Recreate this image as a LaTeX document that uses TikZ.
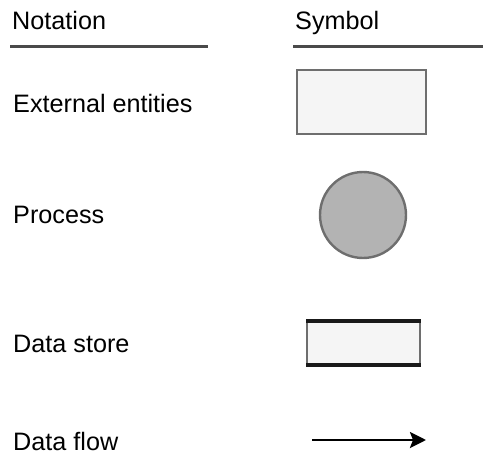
\documentclass[tikz,border=0pt]{standalone}
\usepackage{fontspec}
\setmainfont{Liberation Sans}
\usetikzlibrary{arrows.meta}
\definecolor{boxfill}{HTML}{F5F5F5}
\definecolor{boxline}{HTML}{6E6E6E}
\definecolor{procfill}{HTML}{B3B3B3}
\definecolor{rulecol}{HTML}{4A4A4A}
\begin{document}
\begin{tikzpicture}[x=1pt,y=-1pt,
  lbl/.style={anchor=base west,inner sep=0pt,font=\fontsize{25.2}{30}\selectfont,text=black},
  hrule/.style={draw=rulecol,line width=3pt},
  entity/.style={draw=boxline,fill=boxfill,line width=2.6pt},
  proc/.style={circle,draw=boxline,fill=procfill,line width=2.4pt,minimum size=86pt,inner sep=0pt},
  flow/.style={draw=black,line width=2.6pt,-{Stealth[length=16pt,width=16pt,inset=3pt]}}]
\useasboundingbox (0,0) rectangle (483,455);
\node[lbl] (hnot) at (12,29) {Notation};
\node[lbl] (hsym) at (295,29) {Symbol};
\coordinate (r1a) at (10,46); \coordinate (r1b) at (208,46);
\coordinate (r2a) at (293,46); \coordinate (r2b) at (483,46);
\draw[hrule] (r1a) -- (r1b);
\draw[hrule] (r2a) -- (r2b);
\node[lbl] (lext) at (13,112) {External entities};
\node[lbl] (lproc) at (13,223) {Process};
\node[lbl] (lstore) at (13,352) {Data store};
\node[lbl] (lflow) at (13,450) {Data flow};
% external entity
\draw[entity] (297,70) rectangle (426,134);
% process
\node[proc] (proc) at (363,215) {};
% data store
\fill[boxfill] (307,321) rectangle (420,365);
\draw[boxline,line width=1.6pt] (307,321) -- (307,365) (420,321) -- (420,365);
\draw[black!90,line width=3.6pt] (306,321) -- (421,321);
\draw[black!90,line width=3.6pt] (306,365) -- (421,365);
% data flow
\coordinate (fa) at (312,440); \coordinate (fb) at (426,440);
\draw[flow] (fa) -- (fb);
\end{tikzpicture}
\end{document}
